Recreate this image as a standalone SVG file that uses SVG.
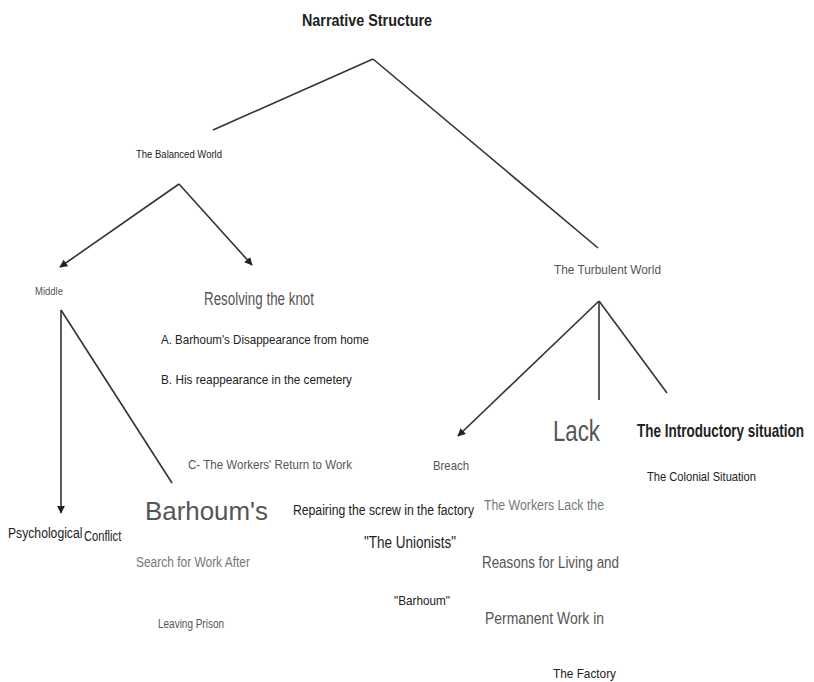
<svg xmlns="http://www.w3.org/2000/svg" width="814" height="682" viewBox="0 0 814 682">
<defs>
<marker id="ah" viewBox="0 0 10 10" refX="9" refY="5" markerWidth="8" markerHeight="8" markerUnits="userSpaceOnUse" orient="auto">
<path d="M0,0 L10,5 L0,10 z" fill="#222"/>
</marker>
<style>
text{font-family:"Liberation Sans",Arial,sans-serif;fill:#222}
.g{fill:#555}
.lg{fill:#777}
.b{font-weight:bold}
line{stroke:#333;stroke-width:1.6}
.arr{marker-end:url(#ah)}
</style>
</defs>
<rect width="814" height="682" fill="#fff"/>
<g id="connectors">
<line x1="213" y1="130" x2="373" y2="59"/>
<line x1="373" y1="59" x2="598" y2="248"/>
<line class="arr" x1="179" y1="184" x2="60" y2="267"/>
<line class="arr" x1="179" y1="184" x2="252" y2="265"/>
<line class="arr" x1="61" y1="310" x2="61" y2="513"/>
<line x1="61" y1="310" x2="172" y2="483"/>
<line class="arr" x1="599" y1="301" x2="458" y2="436"/>
<line x1="599" y1="301" x2="599" y2="400"/>
<line x1="599" y1="301" x2="667" y2="393"/>
</g>
<g id="n-title"><text class="b" x="302" y="26" font-size="17" textLength="130" lengthAdjust="spacingAndGlyphs">Narrative Structure</text></g>
<g id="n-balanced"><text x="136" y="158" font-size="11" textLength="86" lengthAdjust="spacingAndGlyphs">The Balanced World</text></g>
<g id="n-middle"><text class="g" x="35" y="295" font-size="11" textLength="28" lengthAdjust="spacingAndGlyphs">Middle</text></g>
<g id="n-resolving">
<text class="g" x="204" y="305" font-size="18" textLength="110" lengthAdjust="spacingAndGlyphs">Resolving the knot</text>
<text x="161" y="344" font-size="13" textLength="208" lengthAdjust="spacingAndGlyphs">A. Barhoum's Disappearance from home</text>
<text x="161" y="384" font-size="13" textLength="191" lengthAdjust="spacingAndGlyphs">B. His reappearance in the cemetery</text>
<text class="g" x="188" y="469" font-size="13" textLength="164" lengthAdjust="spacingAndGlyphs">C- The Workers' Return to Work</text>
</g>
<g id="n-psych">
<text transform="translate(8,538) scale(0.87,1)" font-size="14">Psychological</text>
<text transform="translate(84,541) scale(0.8,1)" font-size="14">Conflict</text>
</g>
<g id="n-barhoum">
<text class="g" x="145" y="520" font-size="25" textLength="123" lengthAdjust="spacingAndGlyphs">Barhoum's</text>
<text class="lg" x="136" y="567" font-size="14" textLength="114" lengthAdjust="spacingAndGlyphs">Search for Work After</text>
<text class="g" x="158" y="628" font-size="12" textLength="66" lengthAdjust="spacingAndGlyphs">Leaving Prison</text>
</g>
<g id="n-turbulent"><text class="g" x="554" y="274" font-size="13" textLength="107" lengthAdjust="spacingAndGlyphs">The Turbulent World</text></g>
<g id="n-breach">
<text class="g" x="433" y="470" font-size="13" textLength="36" lengthAdjust="spacingAndGlyphs">Breach</text>
<text x="293" y="515" font-size="14" textLength="181" lengthAdjust="spacingAndGlyphs">Repairing the screw in the factory</text>
<text x="364" y="548" font-size="16" textLength="92" lengthAdjust="spacingAndGlyphs">"The Unionists"</text>
<text x="394" y="605" font-size="13" textLength="56" lengthAdjust="spacingAndGlyphs">"Barhoum"</text>
</g>
<g id="n-lack">
<text class="g" x="553" y="441" font-size="30" textLength="47" lengthAdjust="spacingAndGlyphs">Lack</text>
<text class="lg" x="484" y="510" font-size="14" textLength="120" lengthAdjust="spacingAndGlyphs">The Workers Lack the</text>
<text class="g" x="482" y="568" font-size="16" textLength="137" lengthAdjust="spacingAndGlyphs">Reasons for Living and</text>
<text class="g" x="485" y="624" font-size="16" textLength="119" lengthAdjust="spacingAndGlyphs">Permanent Work in</text>
<text x="553" y="678" font-size="13" textLength="63" lengthAdjust="spacingAndGlyphs">The Factory</text>
</g>
<g id="n-intro">
<text class="b" transform="translate(637,437) scale(0.75,1)" font-size="18">The Introductory situation</text>
<text x="647" y="481" font-size="13" textLength="109" lengthAdjust="spacingAndGlyphs">The Colonial Situation</text>
</g>
</svg>
